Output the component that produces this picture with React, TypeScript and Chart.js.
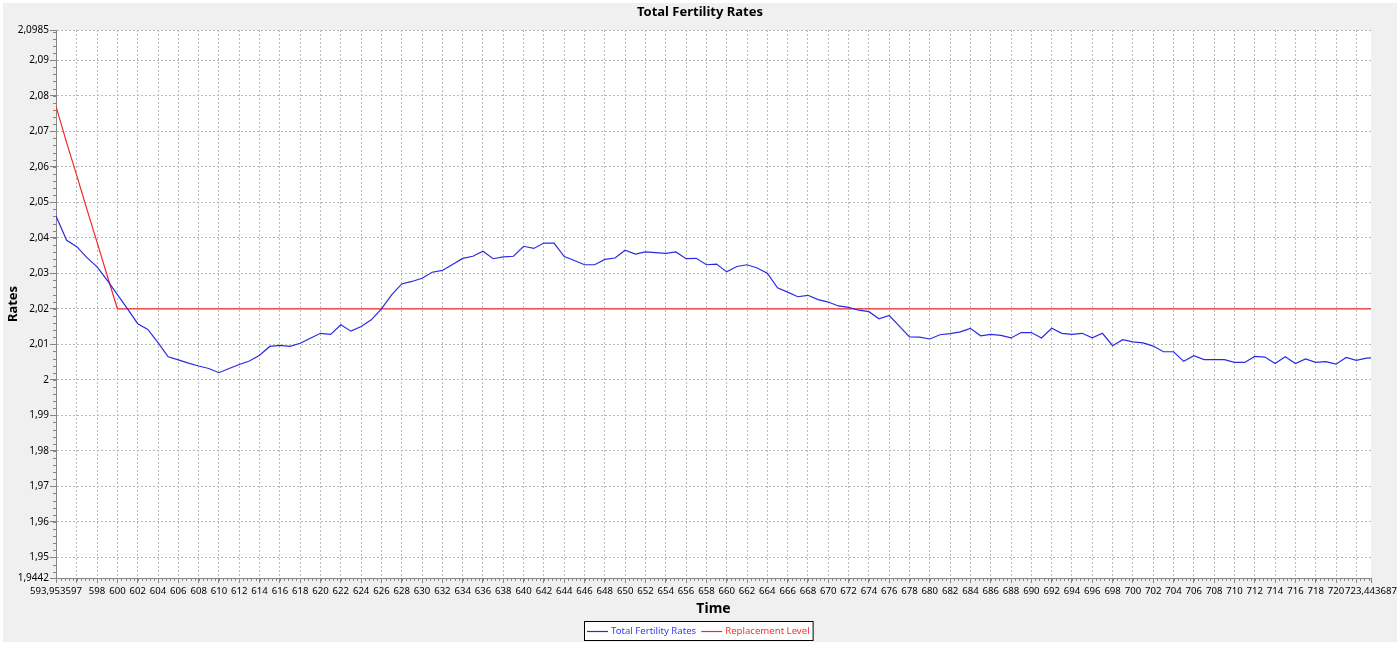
import React, { useEffect, useRef } from 'react';
import { Chart, registerables } from 'chart.js';

Chart.register(...registerables);

// ---- data ----
const years = [
  593.953597, 595, 596, 597, 598, 599,
  600, 601, 602, 603, 604, 605, 606, 607, 608, 609,
  610, 611, 612, 613, 614, 615, 616, 617, 618, 619,
  620, 621, 622, 623, 624, 625, 626, 627, 628, 629,
  630, 631, 632, 633, 634, 635, 636, 637, 638, 639,
  640, 641, 642, 643, 644, 645, 646, 647, 648, 649,
  650, 651, 652, 653, 654, 655, 656, 657, 658, 659,
  660, 661, 662, 663, 664, 665, 666, 667, 668, 669,
  670, 671, 672, 673, 674, 675, 676, 677, 678, 679,
  680, 681, 682, 683, 684, 685, 686, 687, 688, 689,
  690, 691, 692, 693, 694, 695, 696, 697, 698, 699,
  700, 701, 702, 703, 704, 705, 706, 707, 708, 709,
  710, 711, 712, 713, 714, 715, 716, 717, 718, 719,
  720, 721, 722, 723, 723.443687,
];

const totalFertilityRates = [
  2.0461, 2.0393, 2.0375, 2.0344, 2.0318, 2.0280,
  2.0240, 2.0200, 2.0158, 2.0142, 2.0105, 2.0065, 2.0056, 2.0047, 2.0039, 2.0032,
  2.0020, 2.0032, 2.0043, 2.0053, 2.0069, 2.0094, 2.0097, 2.0094, 2.0103, 2.0117,
  2.0131, 2.0128, 2.0155, 2.0137, 2.0150, 2.0169, 2.0200, 2.0239, 2.0270, 2.0277,
  2.0286, 2.0303, 2.0308, 2.0325, 2.0342, 2.0348, 2.0362, 2.0341, 2.0346, 2.0348,
  2.0376, 2.0370, 2.0385, 2.0385, 2.0347, 2.0336, 2.0324, 2.0324, 2.0339, 2.0343,
  2.0365, 2.0354, 2.0360, 2.0358, 2.0356, 2.0360, 2.0341, 2.0342, 2.0324, 2.0326,
  2.0304, 2.0319, 2.0324, 2.0315, 2.0300, 2.0259, 2.0247, 2.0234, 2.0238, 2.0226,
  2.0219, 2.0208, 2.0204, 2.0196, 2.0192, 2.0172, 2.0181, 2.0151, 2.0121, 2.0120,
  2.0115, 2.0127, 2.0130, 2.0135, 2.0145, 2.0124, 2.0128, 2.0125, 2.0118, 2.0133,
  2.0133, 2.0118, 2.0145, 2.0131, 2.0128, 2.0131, 2.0118, 2.0131, 2.0096, 2.0113,
  2.0107, 2.0104, 2.0095, 2.0079, 2.0079, 2.0052, 2.0068, 2.0057, 2.0057, 2.0057,
  2.0049, 2.0049, 2.0066, 2.0064, 2.0046, 2.0065, 2.0046, 2.0059, 2.0049, 2.0051,
  2.0044, 2.0063, 2.0055, 2.0061, 2.0062,
];

const replacementYears = [593.953597, 595, 596, 597, 598, 599, 600, 723.443687];
const replacementLevel = [2.077, 2.0668, 2.0575, 2.048, 2.0387, 2.0293, 2.02, 2.02];

const xMin = 593.953597;
const xMax = 723.443687;
const yMin = 1.9442;
const yMax = 2.0985;

const xTicks = [
  596, 598, 600, 602, 604, 606, 608, 610, 612, 614, 616, 618, 620, 622, 624, 626,
  628, 630, 632, 634, 636, 638, 640, 642, 644, 646, 648, 650, 652, 654, 656, 658,
  660, 662, 664, 666, 668, 670, 672, 674, 676, 678, 680, 682, 684, 686, 688, 690,
  692, 694, 696, 698, 700, 702, 704, 706, 708, 710, 712, 714, 716, 718, 720, 722,
];
const xHiddenLabels = [596, 722];
const yTicks = [1.95, 1.96, 1.97, 1.98, 1.99, 2.0, 2.01, 2.02, 2.03, 2.04, 2.05, 2.06, 2.07, 2.08, 2.09];

const seriesNames = ['Total Fertility Rates', 'Replacement Level'];
const seriesColors = ['#2a2ae6', '#f02a2a'];
const legendTextColors = ['#3838f0', '#f53030'];

const FONT = "'Noto Sans', 'Liberation Sans', sans-serif";

const fmt = (v: number) => parseFloat(v.toFixed(6)).toString().replace('.', ',');

const AXIS_COLOR = '#858585';
const GRID_COLOR = '#b9b9b9';

const backgroundPlugin = {
  id: 'panelBg',
  beforeDraw(chart: any) {
    const { ctx, chartArea, width, height } = chart;
    ctx.save();
    ctx.fillStyle = '#ffffff';
    ctx.fillRect(0, 0, width, height);
    ctx.fillStyle = '#f0f0f0';
    ctx.fillRect(3, 3, width - 6, height - 6);
    ctx.fillStyle = '#ffffff';
    ctx.fillRect(chartArea.left, chartArea.top, chartArea.right - chartArea.left, chartArea.bottom - chartArea.top);
    ctx.restore();
  },
};

const minorTicksPlugin = {
  id: 'minorTicks',
  afterDraw(chart: any) {
    const { ctx } = chart;
    const xs = chart.scales.x;
    const ys = chart.scales.y;
    ctx.save();
    ctx.strokeStyle = AXIS_COLOR;
    ctx.lineWidth = 1;
    ctx.beginPath();
    const xStep = 0.4;
    for (let k = Math.ceil(xs.min / xStep); k * xStep <= xs.max; k++) {
      const px = Math.round(xs.getPixelForValue(k * xStep)) + 0.5;
      ctx.moveTo(px, ys.bottom);
      ctx.lineTo(px, ys.bottom + 3);
    }
    const yStep = 0.002;
    for (let k = Math.ceil(ys.min / yStep - 1e-9); k * yStep <= ys.max + 1e-9; k++) {
      const py = Math.round(ys.getPixelForValue(k * yStep)) + 0.5;
      ctx.moveTo(xs.left - 3, py);
      ctx.lineTo(xs.left, py);
    }
    ctx.stroke();
    ctx.restore();
  },
};

const boxLegendPlugin = {
  id: 'boxLegend',
  afterDraw(chart: any) {
    const { ctx } = chart;
    const ds = chart.data.datasets;
    ctx.save();
    ctx.font = `9.6px ${FONT}`;
    const widths = ds.map((d: any) => ctx.measureText(d.label).width);
    const lineLen = 21;
    const gapLT = 3;
    const gapItems = 5;
    let total = 3;
    widths.forEach((w: number, i: number) => {
      total += lineLen + gapLT + w + (i < widths.length - 1 ? gapItems : 0);
    });
    total += 4;
    const cx = 698.5;
    const top = 621;
    const h = 20;
    const left = Math.round(cx - total / 2);
    ctx.fillStyle = '#ffffff';
    ctx.fillRect(left, top, total, h);
    ctx.strokeStyle = '#000000';
    ctx.lineWidth = 1;
    ctx.strokeRect(left + 0.5, top + 0.5, total - 1, h - 1);
    let x = left + 3;
    const cy = top + h / 2;
    ds.forEach((d: any, i: number) => {
      ctx.strokeStyle = d.borderColor;
      ctx.lineWidth = 1.2;
      ctx.beginPath();
      ctx.moveTo(x, Math.round(cy) + 0.5);
      ctx.lineTo(x + lineLen, Math.round(cy) + 0.5);
      ctx.stroke();
      x += lineLen + gapLT;
      ctx.fillStyle = legendTextColors[i];
      ctx.textBaseline = 'middle';
      ctx.textAlign = 'left';
      ctx.fillText(d.label, x, cy + 0.5);
      x += widths[i] + gapItems;
    });
    ctx.restore();
  },
};

export default function App() {
  const ref = useRef<HTMLCanvasElement>(null);

  useEffect(() => {
    document.body.style.margin = '0';
    Chart.defaults.font.family = FONT;
    Chart.defaults.color = '#000000';
    const chart = new Chart(ref.current as HTMLCanvasElement, {
      type: 'line',
      data: {
        datasets: [
          {
            label: seriesNames[0],
            data: years.map((x, i) => ({ x, y: totalFertilityRates[i] })),
            borderColor: seriesColors[0],
            borderWidth: 1.2,
            pointRadius: 0,
            tension: 0,
            fill: false,
          },
          {
            label: seriesNames[1],
            data: replacementYears.map((x, i) => ({ x, y: replacementLevel[i] })),
            borderColor: seriesColors[1],
            borderWidth: 1.2,
            pointRadius: 0,
            tension: 0,
            fill: false,
          },
        ],
      },
      options: {
        animation: false,
        responsive: false,
        layout: { padding: { left: 3, right: 3, top: 0, bottom: 28 } },
        plugins: {
          legend: { display: false },
          tooltip: { enabled: false },
          title: {
            display: true,
            text: 'Total Fertility Rates',
            color: '#000000',
            font: { family: FONT, size: 13, weight: 'bold' },
            padding: { top: 4.5, bottom: 9.9 },
          },
        },
        scales: {
          x: {
            type: 'linear',
            min: xMin,
            max: xMax,
            afterBuildTicks: (scale: any) => {
              scale.ticks = [xMin, ...xTicks, xMax].map((value) => ({ value }));
            },
            afterFit: (scale: any) => {
              scale.height = 39;
              scale.paddingLeft = 0;
              scale.paddingRight = 29;
            },
            ticks: {
              autoSkip: false,
              maxRotation: 0,
              minRotation: 0,
              padding: 3,
              color: '#000000',
              font: { family: FONT, size: 9.6 },
              callback: (v: any) => (xHiddenLabels.includes(Number(v)) ? '' : fmt(Number(v))),
            },
            grid: {
              color: (c: any) =>
                c.tick && (c.tick.value === xMax || c.tick.value === xMin) ? 'rgba(0,0,0,0)' : GRID_COLOR,
              lineWidth: 1,
              tickLength: 5,
              tickColor: AXIS_COLOR,
              drawTicks: true,
            },
            border: { display: true, color: AXIS_COLOR, width: 1, dash: [2, 2] },
            title: {
              display: true,
              text: 'Time',
              color: '#000000',
              font: { family: FONT, size: 14, weight: 'bold' },
              padding: { top: 0, bottom: 0 },
            },
          },
          y: {
            type: 'linear',
            min: yMin,
            max: yMax,
            afterBuildTicks: (scale: any) => {
              scale.ticks = [yMin, ...yTicks, yMax].map((value) => ({ value }));
            },
            afterFit: (scale: any) => {
              scale.width = 53;
            },
            ticks: {
              autoSkip: false,
              padding: 1,
              color: '#000000',
              font: { family: FONT, size: 10 },
              callback: (v: any) => fmt(Number(v)),
            },
            grid: {
              color: (c: any) => (c.tick && c.tick.value === yMin ? 'rgba(0,0,0,0)' : GRID_COLOR),
              lineWidth: 1,
              tickLength: 6,
              tickColor: AXIS_COLOR,
              drawTicks: true,
            },
            border: { display: true, color: AXIS_COLOR, width: 1, dash: [2, 2] },
            title: {
              display: true,
              text: 'Rates',
              color: '#000000',
              font: { family: FONT, size: 13, weight: 'bold' },
              padding: { top: 2, bottom: 0 },
            },
          },
        },
      },
      plugins: [backgroundPlugin, minorTicksPlugin, boxLegendPlugin],
    } as any);
    return () => chart.destroy();
  }, []);

  return (
    <div style={{ width: 1400, height: 645 }}>
      <canvas ref={ref} width={1400} height={645} style={{ display: 'block', width: 1400, height: 645 }} />
    </div>
  );
}
